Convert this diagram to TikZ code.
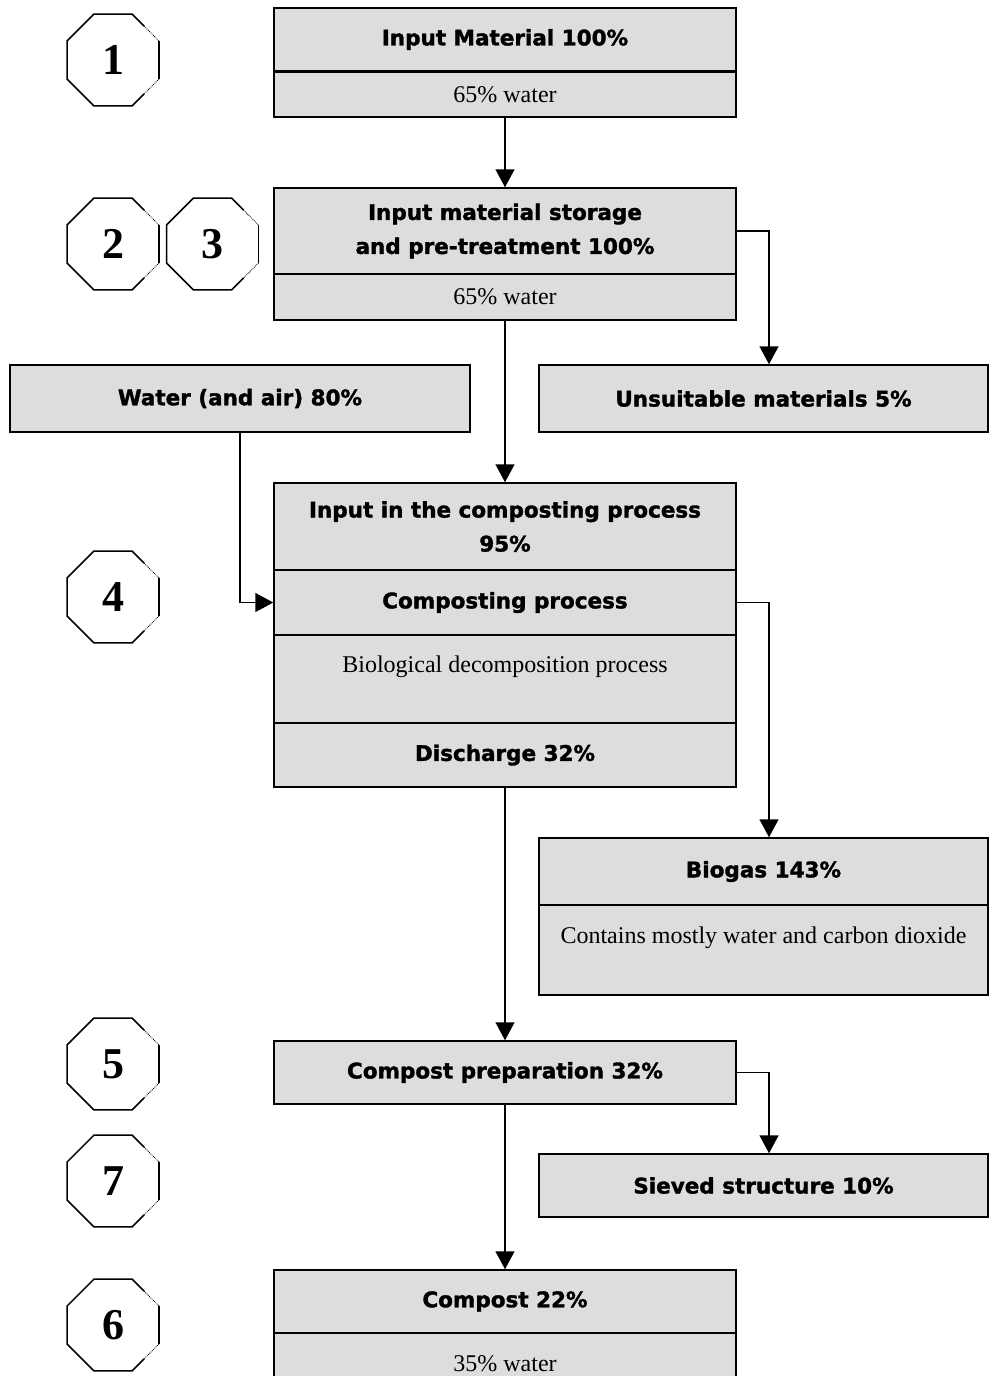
\documentclass[tikz,border=0pt]{standalone}
\usepackage{fontspec}
\setmainfont{Liberation Serif}
\newfontfamily\headfont{DejaVu Sans}[BoldFeatures={FakeBold=1.6}]
\usetikzlibrary{arrows.meta,shapes.geometric,calc}
\definecolor{boxgray}{HTML}{DDDDDD}

\begin{document}
\begin{tikzpicture}[x=1pt, y=-1pt, >={Triangle[length=18pt,width=19pt]},
    box/.style={draw, fill=boxgray, line width=1.5pt, minimum width=462pt, inner sep=0pt, align=center},
    side/.style={box, minimum width=449pt},
    head/.style={font=\headfont\bfseries\fontsize{21.5}{34}\selectfont},
    note/.style={font=\fontsize{24}{30}\selectfont},
    octagon/.style={regular polygon, regular polygon sides=8, minimum size=99pt, inner sep=0pt, font=\bfseries\fontsize{44}{44}\selectfont},
    flow/.style={->, line width=1.5pt}]
    \useasboundingbox (0,0) rectangle (989,1376);

    % Step numbers
    \node[octagon] (o1) at (113,60) {1};
    \node[octagon] (o2) at (113,244) {2};
    \node[octagon] (o3) at (212.5,244) {3};
    \node[octagon] (o4) at (113,597) {4};
    \node[octagon] (o5) at (113,1064) {5};
    \node[octagon] (o7) at (113,1181) {7};
    \node[octagon] (o6) at (113,1325) {6};
    \foreach \o in {o1,o2,o3,o4,o5,o7,o6} {
        \draw[line width=1.5pt] ($(\o.corner 1)!.45!(\o.corner 8)$) -- (\o.corner 1) -- (\o.corner 2) -- (\o.corner 3)
            -- (\o.corner 4) -- (\o.corner 5) -- (\o.corner 6) -- ($(\o.corner 6)!.45!(\o.corner 7)$);
        \draw[line width=1.5pt] (\o.corner 8) -- (\o.corner 7);
        \draw[densely dotted, line width=0.8pt] ($(\o.corner 1)!.45!(\o.corner 8)$) -- (\o.corner 8)
            (\o.corner 7) -- ($(\o.corner 6)!.45!(\o.corner 7)$);
    }

    % Input material
    \node[box, head, minimum height=63pt] (inmat) at (505,39.5) {Input Material 100\%};
    \node[box, note, minimum height=45pt] (inmatw) at (505,94.5) {65\% water};

    % Storage and pre-treatment
    \node[box, head, minimum height=86pt] (store) at (505,231) {Input material storage\\and pre-treatment 100\%};
    \node[box, note, minimum height=46pt] (storew) at (505,297) {65\% water};

    % Side streams
    \node[box, head, minimum width=460pt, minimum height=67pt] (water) at (240,398.5) {Water (and air) 80\%};
    \node[side, head, minimum height=67pt] (unsuit) at (763.5,398.5) {Unsuitable materials 5\%};

    % Composting
    \node[box, head, minimum height=87pt] (cinput) at (505,526.5) {Input in the composting process\\95\%};
    \node[box, head, minimum height=65pt] (cproc) at (505,602.5) {Composting process};
    \node[box, note, minimum height=88pt] (cbio) at (505,679) {Biological decomposition process\\\mbox{}};
    \node[box, head, minimum height=64pt] (cdis) at (505,755) {Discharge 32\%};

    % Biogas
    \node[side, head, minimum height=67pt] (biogas) at (763.5,871.5) {Biogas 143\%};
    \node[side, note, minimum height=90pt] (biogasw) at (763.5,950) {Contains mostly water and carbon dioxide\\\mbox{}};

    % Preparation and product
    \node[box, head, minimum height=63pt] (prep) at (505,1072.5) {Compost preparation 32\%};
    \node[side, head, minimum height=63pt] (sieved) at (763.5,1185.5) {Sieved structure 10\%};
    \node[box, head, minimum height=63pt] (compost) at (505,1301.5) {Compost 22\%};
    \node[box, note, minimum height=62pt] (compostw) at (505,1364) {35\% water};

    % Flows
    \draw[flow] (inmatw.south) -- (store.north);
    \draw[flow] (store.east) -| ([xshift=5.5pt]unsuit.north);
    \draw[flow] (storew.south) -- (cinput.north);
    \draw[flow] (water.south) |- (cproc.west);
    \draw[flow] (cproc.east) -| ([xshift=5.5pt]biogas.north);
    \draw[flow] (cdis.south) -- (prep.north);
    \draw[flow] (prep.east) -| ([xshift=5.5pt]sieved.north);
    \draw[flow] (prep.south) -- (compost.north);
\end{tikzpicture}
\end{document}
